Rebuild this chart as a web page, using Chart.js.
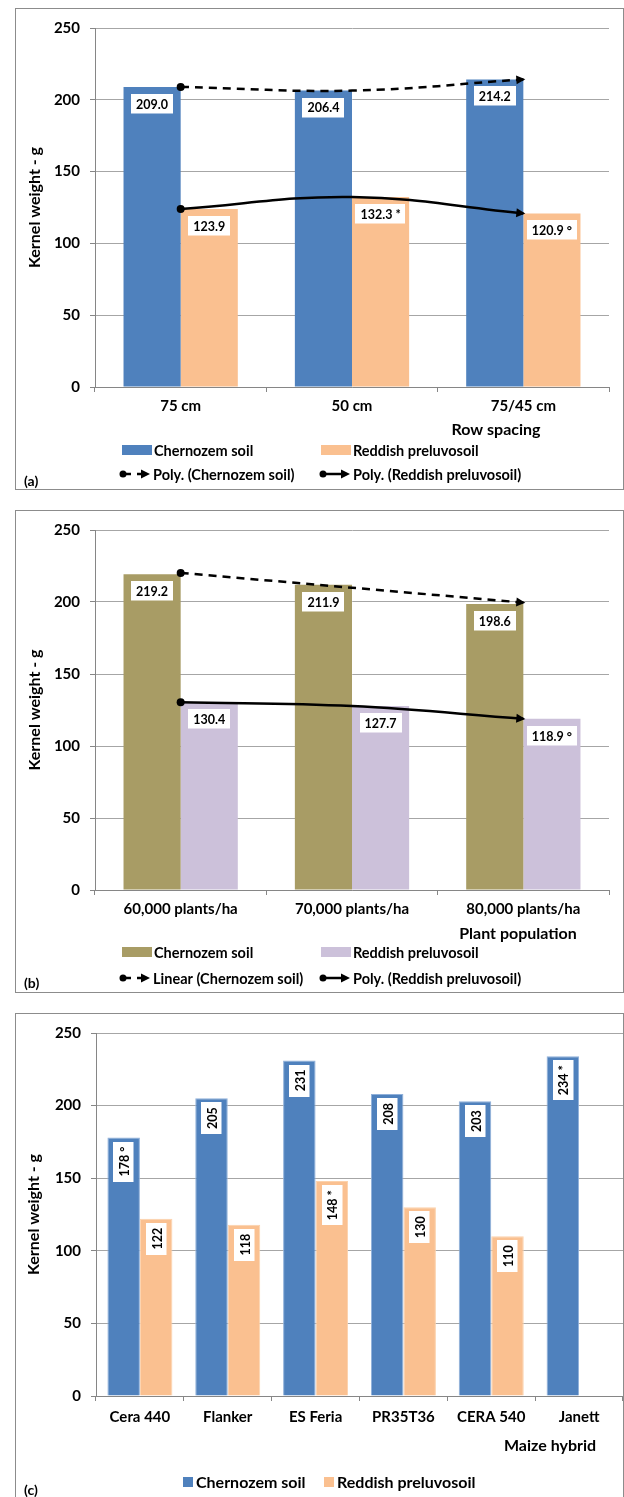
<!DOCTYPE html>
<html>
<head>
<meta charset="utf-8">
<title>Kernel weight by row spacing, plant population and maize hybrid</title>
<script src="https://cdn.jsdelivr.net/npm/chart.js@4.4.1/dist/chart.umd.min.js"></script>
<style>
  html, body { margin: 0; padding: 0; background: #fff; }
  body { width: 624px; height: 1497px; position: relative; overflow: hidden; }
  .panel { position: absolute; left: 15px; width: 609px; border: 1px solid #8c8c8c; box-sizing: border-box; background: #fff; }
  .panel canvas { position: absolute; left: 0; top: 0; }
</style>
</head>
<body>
<div class="panel" style="top:8px;height:482px"><canvas id="chartA" width="607" height="480"></canvas></div>
<div class="panel" style="top:510px;height:483px"><canvas id="chartB" width="607" height="481"></canvas></div>
<div class="panel" style="top:1013px;height:490px"><canvas id="chartC" width="607" height="488"></canvas></div>

<script>
// ---- data ----
const yTicks = [0, 50, 100, 150, 200, 250];

// (a) row spacing
const rowSpacing = ['75 cm', '50 cm', '75/45 cm'];
const chernozemA = [209.0, 206.4, 214.2];
const preluvosolA = [123.9, 132.3, 120.9];
const marksChernozemA = ['', '', ''];
const marksPreluvosolA = ['', '*', '°'];

// (b) plant population
const plantPopulation = ['60,000 plants/ha', '70,000 plants/ha', '80,000 plants/ha'];
const chernozemB = [219.2, 211.9, 198.6];
const preluvosolB = [130.4, 127.7, 118.9];
const marksChernozemB = ['', '', ''];
const marksPreluvosolB = ['', '', '°'];

// (c) maize hybrid
const hybrids = ['Cera 440', 'Flanker', 'ES Feria', 'PR35T36', 'CERA 540', 'Janett'];
const chernozemC = [178, 205, 231, 208, 203, 234];
const preluvosolC = [122, 118, 148, 130, 110, null];
const marksChernozemC = ['°', '', '', '', '', '*'];
const marksPreluvosolC = ['', '', '*', '', '', ''];

// ---- styling ----
const FONT = 'Lato, "Open Sans", "DejaVu Sans", sans-serif';
const BLUE = '#4f81bd';
const ORANGE = '#fac090';
const OLIVE = '#a89c65';
const LILAC = '#ccc1da';
const AXIS = '#868686';
const GRID = '#a6a6a6';

// least-squares polynomial trend evaluated at each category (x = 1..n)
function trendValues(values, degree) {
  const n = values.length, m = degree + 1;
  const A = Array.from({ length: m }, () => new Array(m + 1).fill(0));
  for (let i = 0; i < n; i++) {
    for (let r = 0; r < m; r++) {
      for (let c = 0; c < m; c++) A[r][c] += Math.pow(i + 1, r + c);
      A[r][m] += values[i] * Math.pow(i + 1, r);
    }
  }
  for (let p = 0; p < m; p++) {
    let best = p;
    for (let r = p + 1; r < m; r++) if (Math.abs(A[r][p]) > Math.abs(A[best][p])) best = r;
    [A[p], A[best]] = [A[best], A[p]];
    for (let r = 0; r < m; r++) {
      if (r === p) continue;
      const f = A[r][p] / A[p][p];
      for (let c = p; c <= m; c++) A[r][c] -= f * A[p][c];
    }
  }
  const coef = A.map((row, i) => row[m] / row[i]);
  return values.map((_, i) => coef.reduce((s, k, j) => s + k * Math.pow(i + 1, j), 0));
}

function barSet(label, data, color, marks, digits, extra) {
  return Object.assign({
    type: 'bar', label, data, backgroundColor: color, borderWidth: 0,
    barPercentage: 1, categoryPercentage: 0.667, order: 2,
    valueMarks: marks, valueDigits: digits
  }, extra || {});
}

function trendSet(label, source, degree, dashed) {
  return {
    type: 'line', label, data: trendValues(source, degree),
    borderColor: '#000', borderWidth: 2.5, borderDash: dashed ? [8, 6] : [],
    tension: degree > 1 ? 0.4 : 0, fill: false,
    pointRadius: ctx => ctx.dataIndex === 0 ? 4 : 0,
    pointBackgroundColor: '#000', pointBorderWidth: 0, pointHoverRadius: 0,
    order: 0, arrowEnd: true
  };
}

function arrowHead(ctx, tipX, tipY, ux, uy, len, half) {
  const bx = tipX - ux * len, by = tipY - uy * len;
  ctx.beginPath();
  ctx.moveTo(tipX, tipY);
  ctx.lineTo(bx - uy * half, by + ux * half);
  ctx.lineTo(bx + uy * half, by - ux * half);
  ctx.closePath();
  ctx.fill();
}

// draws trend arrows, value boxes, axis titles and the legend of one panel
const panelDecor = {
  id: 'panelDecor',
  afterDatasetsDraw(chart) {
    const ctx = chart.ctx;
    const deco = chart.options.plugins.panelDecor;
    chart.data.datasets.forEach((ds, di) => {
      const meta = chart.getDatasetMeta(di);
      if (ds.arrowEnd) {
        const pts = meta.data;
        const last = pts[pts.length - 1];
        let dx, dy;
        if (ds.tension > 0 && last.cp1x !== undefined) { dx = last.x - last.cp1x; dy = last.y - last.cp1y; }
        else { const prev = pts[pts.length - 2]; dx = last.x - prev.x; dy = last.y - prev.y; }
        const d = Math.hypot(dx, dy) || 1;
        ctx.save();
        ctx.fillStyle = '#000';
        arrowHead(ctx, last.x + 2 * dx / d, last.y + 2 * dy / d, dx / d, dy / d, 9, 4.5);
        ctx.restore();
      }
    });
    chart.data.datasets.forEach((ds, di) => {
      if (ds.type !== 'bar') return;
      const meta = chart.getDatasetMeta(di);
      ctx.save();
      ctx.font = 'bold ' + deco.labelSize + 'px ' + FONT;
      ctx.textAlign = 'center';
      ctx.textBaseline = 'middle';
      meta.data.forEach((el, i) => {
        const v = ds.data[i];
        if (v === null || v === undefined) return;
        const mark = ds.valueMarks[i];
        const text = v.toFixed(ds.valueDigits) + (mark ? ' ' + mark : '');
        const w = ctx.measureText(text).width;
        if (deco.rotateLabels) {
          const bw = deco.labelSize + 8, bh = w + 10;
          const top = el.y + 4;
          ctx.fillStyle = '#fff';
          ctx.fillRect(Math.round(el.x - bw / 2), Math.round(top), bw, Math.round(bh));
          ctx.save();
          ctx.translate(el.x + 0.5, top + bh / 2);
          ctx.rotate(-Math.PI / 2);
          ctx.fillStyle = '#000';
          ctx.fillText(text, 0, 1);
          ctx.restore();
        } else {
          const bw = w + 10, bh = deco.labelSize + 7;
          const top = el.y + 7;
          ctx.fillStyle = '#fff';
          ctx.fillRect(Math.round(el.x - bw / 2), Math.round(top), Math.round(bw), bh);
          ctx.fillStyle = '#000';
          ctx.fillText(text, el.x, top + bh / 2 + 1);
        }
      });
      ctx.restore();
    });
  },
  afterDraw(chart) {
    const ctx = chart.ctx;
    const deco = chart.options.plugins.panelDecor;
    const area = chart.chartArea;
    ctx.save();
    ctx.fillStyle = '#000';
    ctx.textBaseline = 'middle';

    // y-axis title
    ctx.save();
    ctx.font = 'bold 16px ' + FONT;
    ctx.textAlign = 'center';
    ctx.translate(deco.yTitleX, (area.top + area.bottom) / 2);
    ctx.rotate(-Math.PI / 2);
    ctx.fillText('Kernel weight - g', 0, 0);
    ctx.restore();

    // x-axis title
    ctx.font = 'bold 16px ' + FONT;
    ctx.textAlign = 'center';
    ctx.fillText(deco.xTitle, deco.xTitleX, area.bottom + deco.xTitleDy);

    // panel tag
    ctx.textAlign = 'left';
    ctx.font = 'bold 14px ' + FONT;
    ctx.fillText(deco.tag, 8, deco.tagY);

    // legend
    deco.legend.forEach(item => {
      const x = item.x, y = area.bottom + item.dy;
      ctx.font = 'bold ' + item.size + 'px ' + FONT;
      ctx.fillStyle = '#000';
      if (item.kind === 'box') {
        ctx.fillStyle = item.color;
        ctx.fillRect(x, y - 5, 30, 10);
        ctx.fillStyle = '#000';
        ctx.fillText(item.text, x + 32, y + 1);
      } else if (item.kind === 'square') {
        ctx.fillStyle = item.color;
        ctx.fillRect(x, y - 5, 10, 10);
        ctx.fillStyle = '#000';
        ctx.fillText(item.text, x + 13, y + 1);
      } else {
        ctx.fillStyle = '#000';
        ctx.strokeStyle = '#000';
        ctx.lineWidth = 2.5;
        ctx.beginPath();
        ctx.arc(x + 4, y, 3.5, 0, Math.PI * 2);
        ctx.fill();
        ctx.beginPath();
        if (item.dashed) {
          ctx.moveTo(x + 4, y); ctx.lineTo(x + 12, y);
          ctx.moveTo(x + 18, y); ctx.lineTo(x + 24, y);
        } else {
          ctx.moveTo(x + 4, y); ctx.lineTo(x + 24, y);
        }
        ctx.stroke();
        arrowHead(ctx, x + 31, y, 1, 0, 9, 4.5);
        ctx.fillText(item.text, x + 34, y + 1);
      }
    });
    ctx.restore();
  }
};

function makeChart(id, cfg) {
  const yFont = { family: FONT, size: 15, weight: 'bold' };
  const xFont = { family: FONT, size: 15, weight: 'bold' };
  return new Chart(document.getElementById(id), {
    data: { labels: cfg.labels, datasets: cfg.datasets },
    plugins: [panelDecor],
    options: {
      responsive: false, maintainAspectRatio: false, animation: false,
      layout: { padding: cfg.padding },
      events: [],
      scales: {
        x: {
          type: 'category', offset: true,
          grid: { offset: true, drawOnChartArea: false, drawTicks: true, tickLength: 5, color: AXIS },
          border: { color: AXIS, width: 1 },
          ticks: { color: '#000', font: xFont, padding: cfg.xTickPad, maxRotation: 0, autoSkip: false },
          afterFit: s => { s.height = cfg.xHeight; }
        },
        y: {
          min: 0, max: 250,
          afterBuildTicks: s => { s.ticks = yTicks.map(v => ({ value: v })); },
          grid: { color: GRID, lineWidth: 1, drawTicks: true, tickLength: 5, tickColor: AXIS },
          border: { color: AXIS, width: 1 },
          ticks: { color: '#000', font: yFont, padding: 10 },
          afterFit: s => { s.width = cfg.yWidth; }
        }
      },
      plugins: {
        legend: { display: false },
        tooltip: { enabled: false },
        panelDecor: cfg.deco
      }
    }
  });
}

// (a)
makeChart('chartA', {
  labels: rowSpacing,
  padding: { top: 14, right: 14, bottom: 0, left: 0 },
  yWidth: 79, xHeight: 102, xTickPad: 5,
  datasets: [
    barSet('Chernozem soil', chernozemA, BLUE, marksChernozemA, 1),
    barSet('Reddish preluvosoil', preluvosolA, ORANGE, marksPreluvosolA, 1),
    trendSet('Poly. (Chernozem soil)', chernozemA, 2, true),
    trendSet('Poly. (Reddish preluvosoil)', preluvosolA, 2, false)
  ],
  deco: {
    labelSize: 12.5, rotateLabels: false, yTitleX: 19,
    xTitle: 'Row spacing', xTitleX: 480, xTitleDy: 43,
    tag: '(a)', tagY: 472,
    legend: [
      { kind: 'box', color: BLUE, text: 'Chernozem soil', x: 106, dy: 63, size: 14.5 },
      { kind: 'box', color: ORANGE, text: 'Reddish preluvosoil', x: 305, dy: 63, size: 14.5 },
      { kind: 'trend', dashed: true, text: 'Poly. (Chernozem soil)', x: 103, dy: 87, size: 14.5 },
      { kind: 'trend', dashed: false, text: 'Poly. (Reddish preluvosoil)', x: 303, dy: 87, size: 14.5 }
    ]
  }
});

// (b)
makeChart('chartB', {
  labels: plantPopulation,
  padding: { top: 15, right: 14, bottom: 0, left: 0 },
  yWidth: 79, xHeight: 102, xTickPad: 5,
  datasets: [
    barSet('Chernozem soil', chernozemB, OLIVE, marksChernozemB, 1),
    barSet('Reddish preluvosoil', preluvosolB, LILAC, marksPreluvosolB, 1),
    trendSet('Linear (Chernozem soil)', chernozemB, 1, true),
    trendSet('Poly. (Reddish preluvosoil)', preluvosolB, 2, false)
  ],
  deco: {
    labelSize: 12.5, rotateLabels: false, yTitleX: 19,
    xTitle: 'Plant population', xTitleX: 502, xTitleDy: 44,
    tag: '(b)', tagY: 472,
    legend: [
      { kind: 'box', color: OLIVE, text: 'Chernozem soil', x: 106, dy: 62, size: 14.5 },
      { kind: 'box', color: LILAC, text: 'Reddish preluvosoil', x: 305, dy: 62, size: 14.5 },
      { kind: 'trend', dashed: true, text: 'Linear (Chernozem soil)', x: 103, dy: 88, size: 14.5 },
      { kind: 'trend', dashed: false, text: 'Poly. (Reddish preluvosoil)', x: 303, dy: 88, size: 14.5 }
    ]
  }
});

// (c)
makeChart('chartC', {
  labels: hybrids,
  padding: { top: 14, right: 0, bottom: 0, left: 0 },
  yWidth: 80, xHeight: 106, xTickPad: 7,
  datasets: [
    barSet('Chernozem soil', chernozemC, BLUE, marksChernozemC, 0,
      { categoryPercentage: 0.74, borderWidth: 1, borderColor: '#8fb0da' }),
    barSet('Reddish preluvosoil', preluvosolC, ORANGE, marksPreluvosolC, 0,
      { categoryPercentage: 0.74, borderWidth: 1, borderColor: '#fcd2ac' })
  ],
  deco: {
    labelSize: 12.5, rotateLabels: true, yTitleX: 18,
    xTitle: 'Maize hybrid', xTitleX: 534, xTitleDy: 50,
    tag: '(c)', tagY: 476,
    legend: [
      { kind: 'square', color: BLUE, text: 'Chernozem soil', x: 167, dy: 86, size: 16 },
      { kind: 'square', color: ORANGE, text: 'Reddish preluvosoil', x: 308, dy: 86, size: 16 }
    ]
  }
});
</script>
</body>
</html>
